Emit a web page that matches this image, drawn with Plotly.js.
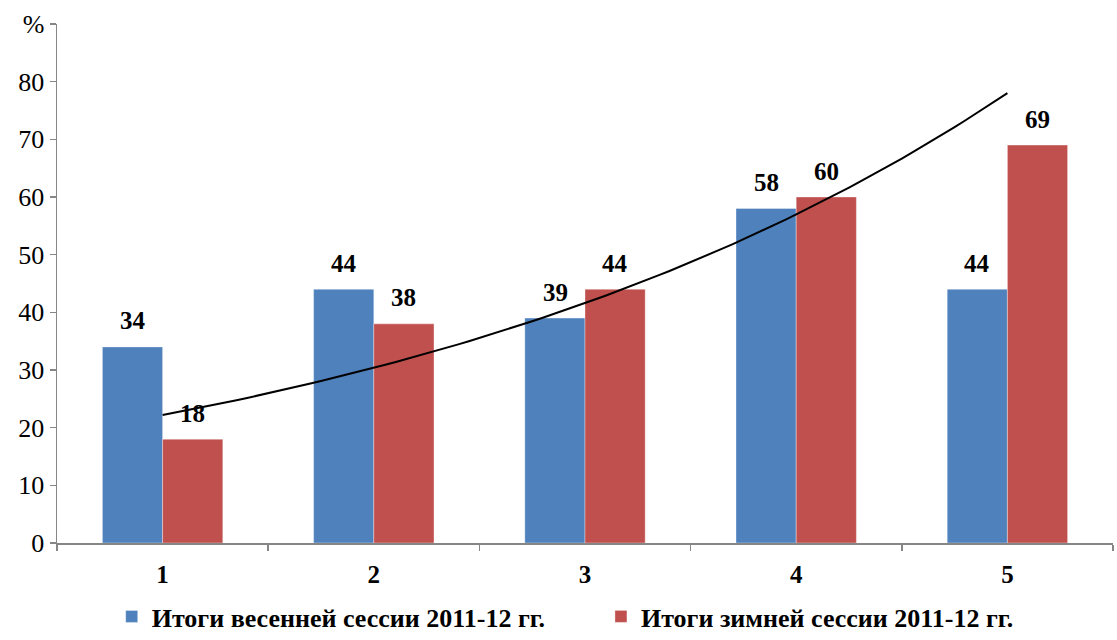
<!DOCTYPE html>
<html>
<head>
<meta charset="utf-8">
<script src="https://cdn.plot.ly/plotly-3.0.1.min.js"></script>
<style>html,body{margin:0;padding:0;background:#fff;}#chart{width:1117px;height:640px;}</style>
</head>
<body>
<div id="chart"></div>
<script>
const categories = [1, 2, 3, 4, 5];
const categoryLabels = ['1', '2', '3', '4', '5'];
const springValues = [34, 44, 39, 58, 44];
const winterValues = [18, 38, 44, 60, 69];
const springName = 'Итоги весенней сессии 2011-12 гг.';
const winterName = 'Итоги зимней сессии 2011-12 гг.';
const yTickVals = [0, 10, 20, 30, 40, 50, 60, 70, 80, 90];
const yTickText = ['0', '10', '20', '30', '40', '50', '60', '70', '80', '%'];

// Exponential trendline (least squares on ln y) of the winter series, as in the original spreadsheet
const n = categories.length;
const lnY = winterValues.map(v => Math.log(v));
const mx = categories.reduce((a, b) => a + b, 0) / n;
const my = lnY.reduce((a, b) => a + b, 0) / n;
let sxy = 0, sxx = 0;
for (let i = 0; i < n; i++) { sxy += (categories[i] - mx) * (lnY[i] - my); sxx += (categories[i] - mx) ** 2; }
const b = sxy / sxx, a = my - b * mx;
const trendX = [], trendY = [];
for (let k = 0; k <= 80; k++) {
  const x = categories[0] + (categories[n - 1] - categories[0]) * k / 80;
  trendX.push(x); trendY.push(Math.exp(a + b * x));
}

const serif = 'Liberation Serif';
const blue = '#4F81BD', red = '#C0504D';

const traces = [
  { type: 'bar', x: categories, y: springValues, name: springName, legend: 'legend',
    marker: { color: blue, line: { color: 'rgba(255,255,255,0.35)', width: 1 } }, hoverinfo: 'y' },
  { type: 'bar', x: categories, y: winterValues, name: winterName, legend: 'legend2',
    marker: { color: red, line: { color: 'rgba(255,255,255,0.35)', width: 1 } }, hoverinfo: 'y' },
  { type: 'scatter', mode: 'lines', x: trendX, y: trendY, showlegend: false,
    line: { color: '#000', width: 2 }, hoverinfo: 'skip' }
];

const annotations = [];
const barOffset = 0.142;
categories.forEach((c, i) => {
  annotations.push({ x: c - barOffset, y: springValues[i], text: String(springValues[i]), showarrow: false,
    yanchor: 'middle', yshift: 26, font: { family: serif, size: 25, color: '#000', weight: 'bold' } });
  annotations.push({ x: c + barOffset, y: winterValues[i], text: String(winterValues[i]), showarrow: false,
    yanchor: 'middle', yshift: 26, font: { family: serif, size: 25, color: '#000', weight: 'bold' } });
});

const legendFont = { family: serif, size: 26, color: '#000', weight: 'bold' };
const layout = {
  width: 1117, height: 640,
  margin: { l: 57, r: 4, t: 23.5, b: 97 },
  paper_bgcolor: '#fff', plot_bgcolor: '#fff',
  font: { family: serif, color: '#000' },
  barmode: 'group', bargap: 0.43, bargroupgap: 0,
  showlegend: true,
  legend: { orientation: 'h', xref: 'container', x: 0.1, xanchor: 'left', yref: 'container', y: -0.009, yanchor: 'bottom',
    font: legendFont },
  legend2: { orientation: 'h', xref: 'container', x: 0.538, xanchor: 'left', yref: 'container', y: -0.009, yanchor: 'bottom',
    font: legendFont },
  xaxis: {
    range: [0.5, 5.5], tickvals: categories, ticktext: categoryLabels, ticks: '', ticklabelstandoff: 8,
    showline: true, linecolor: '#868686', linewidth: 1.5, showgrid: false, zeroline: false,
    tickfont: { family: serif, size: 25, color: '#000', weight: 'bold' },
    minor: { tickmode: 'linear', tick0: 0.5, dtick: 1, ticks: 'outside', ticklen: 6, tickcolor: '#868686', tickwidth: 1.5 }
  },
  yaxis: {
    range: [0, 90], tickvals: yTickVals, ticktext: yTickText, ticks: 'outside', ticklen: 6,
    tickcolor: '#868686', tickwidth: 1.5, showline: true, linecolor: '#868686', linewidth: 1.5,
    showgrid: false, zeroline: false,
    tickfont: { family: serif, size: 26, color: '#000' }
  },
  annotations: annotations
};

Plotly.newPlot('chart', traces, layout, { displayModeBar: false, staticPlot: true });
</script>
</body>
</html>
